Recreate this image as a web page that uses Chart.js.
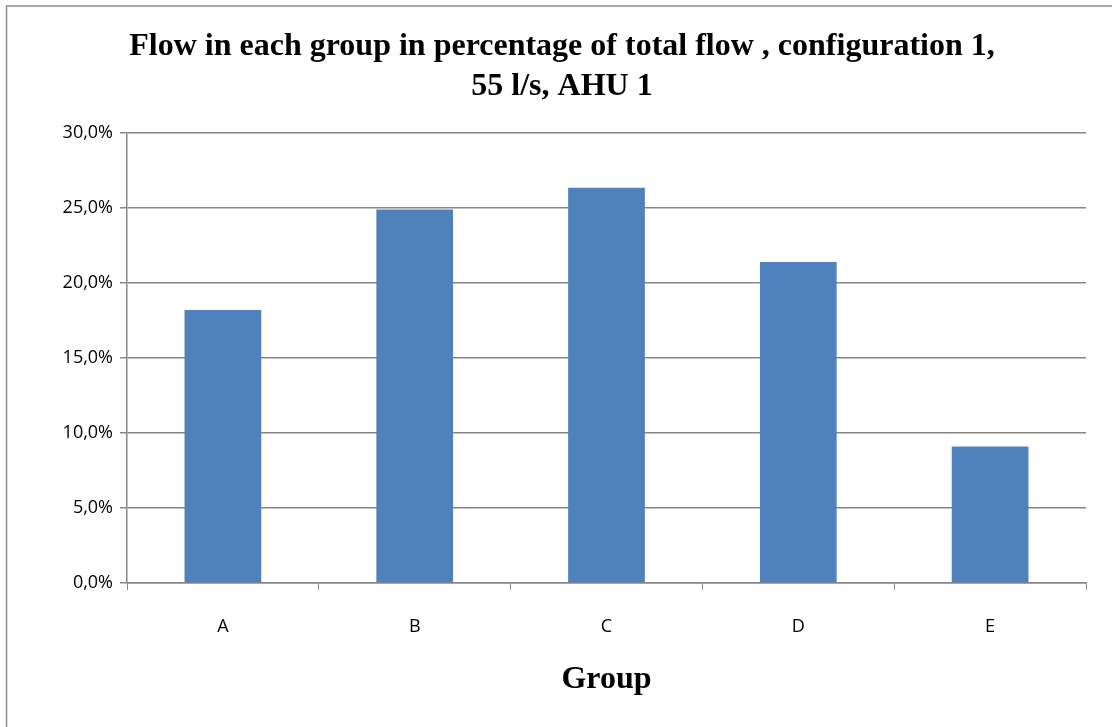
<!DOCTYPE html>
<html>
<head>
<meta charset="utf-8">
<script src="https://cdn.jsdelivr.net/npm/chart.js@4/dist/chart.umd.min.js"></script>
<style>
html,body{margin:0;padding:0;background:#fff;}
#wrap{width:1112px;height:727px;position:relative;}
</style>
</head>
<body>
<div id="wrap"><canvas id="c" width="1112" height="727"></canvas></div>
<script>
const categories = ['A', 'B', 'C', 'D', 'E'];
const flowPercent = [18.2, 24.9, 26.35, 21.4, 9.1];
const titleLines = ['Flow in each group in percentage of total flow , configuration 1,', '55 l/s, AHU 1'];
const xTitle = 'Group';
const yMin = 0, yMax = 30, yStep = 5;

const frame = {
  id: 'frame',
  beforeDraw(chart) {
    const ctx = chart.ctx;
    ctx.save();
    ctx.fillStyle = '#fff';
    ctx.fillRect(0, 0, chart.width, chart.height);
    ctx.strokeStyle = '#8c8c8c';
    ctx.lineWidth = 1.5;
    ctx.strokeRect(6.5, 6, chart.width + 20, chart.height + 20);
    ctx.restore();
  }
};

new Chart(document.getElementById('c'), {
  type: 'bar',
  data: {
    labels: categories,
    datasets: [{
      data: flowPercent,
      backgroundColor: '#4F81BD',
      borderWidth: 0,
      categoryPercentage: 1,
      barPercentage: 0.4
    }]
  },
  options: {
    responsive: false,
    animation: false,
    layout: { padding: { left: 38, right: 26, top: 0, bottom: 0 } },
    plugins: {
      legend: { display: false },
      tooltip: { enabled: false },
      title: {
        display: true,
        text: titleLines,
        color: '#000',
        font: { family: '"Liberation Serif", "Times New Roman", serif', size: 32, weight: 'bold', lineHeight: '40px' },
        padding: { top: 27, bottom: 26 }
      }
    },
    scales: {
      x: {
        afterFit(s) { s.height = 144; },
        grid: { display: true, drawOnChartArea: false, drawTicks: true, tickLength: 7, color: '#868686', offset: true },
        border: { display: true, color: '#868686', width: 1.5 },
        ticks: { color: '#000', padding: 26, font: { family: '"Open Sans", sans-serif', size: 18 } },
        title: {
          display: true, text: xTitle, color: '#000',
          font: { family: '"Liberation Serif", "Times New Roman", serif', size: 32, weight: 'bold' },
          padding: { top: 0, bottom: 28 }
        }
      },
      y: {
        min: yMin, max: yMax,
        afterFit(s) { s.width = 89; },
        grid: { color: '#868686', lineWidth: 1.5, drawTicks: true, tickLength: 7 },
        border: { display: true, color: '#868686', width: 1.5 },
        ticks: {
          stepSize: yStep, color: '#000', padding: 7,
          font: { family: '"Open Sans", sans-serif', size: 18 },
          callback: v => v.toFixed(1).replace('.', ',') + '%'
        }
      }
    }
  },
  plugins: [frame]
});
</script>
</body>
</html>
